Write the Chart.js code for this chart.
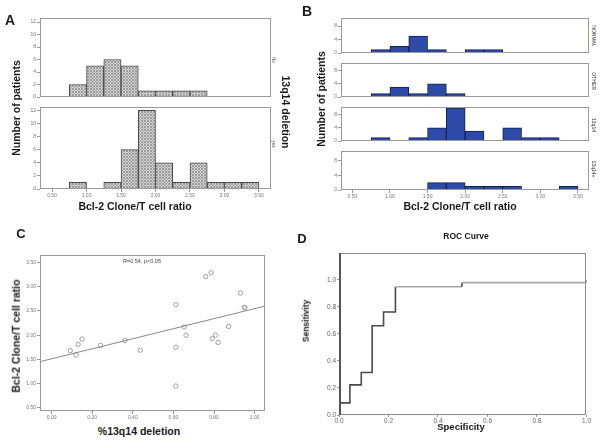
<!DOCTYPE html>
<html>
<head>
<meta charset="utf-8">
<script src="https://cdn.jsdelivr.net/npm/chart.js@4/dist/chart.umd.min.js"></script>
<style>
body { margin: 0; background: #fff; }
#fig { position: relative; width: 602px; height: 443px; overflow: hidden; font-family: "Liberation Sans", Arial, sans-serif; }
#fig canvas { position: absolute; }
.t { position: absolute; white-space: nowrap; color: #1a1a1a; line-height: 1; transform: translate(-50%, -50%); }
.b { font-weight: bold; }
.up { transform: translate(-50%, -50%) rotate(-90deg); }
.down { transform: translate(-50%, -50%) rotate(90deg); }
</style>
</head>
<body>
<div id="fig"></div>
<script>
// histogram bins (Bcl-2 clone / T cell ratio), width 0.25
const binStarts = [0.75, 1.00, 1.25, 1.50, 1.75, 2.00, 2.25, 2.50, 2.75, 3.00, 3.25];
const binWidth = 0.25;
const ratioTicks = [0.5, 1.0, 1.5, 2.0, 2.5, 3.0, 3.5];

// panel A: 13q14 deletion no / yes
const noDelCounts  = [2, 5, 6, 5, 1, 1, 1, 1, 0, 0, 0];
const yesDelCounts = [1, 0, 1, 6, 12, 4, 1, 4, 1, 1, 1];
const countTicksA = [0, 2, 4, 6, 8, 10, 12];

// panel B: cytogenetic groups
const groupNames = ['NORMAL', 'OTHER', '13q14', '13q14+'];
const normalCounts = [1, 2, 5, 1, 0, 1, 1, 0, 0, 0, 0];
const otherCounts  = [1, 3, 1, 4, 1, 0, 0, 0, 0, 0, 0];
const q14Counts    = [1, 0, 1, 4, 10, 3, 0, 4, 1, 1, 0];
const q14PlusCounts = [0, 0, 0, 2, 2, 1, 1, 1, 0, 0, 1];
const countTicksB = [0, 2, 4, 6, 8, 10];

// panel C: %13q14 deletion vs ratio
const delPct = [0.092, 0.121, 0.131, 0.150, 0.241, 0.361, 0.437, 0.612, 0.612, 0.612, 0.652, 0.662,
                0.759, 0.786, 0.791, 0.807, 0.820, 0.872, 0.930, 0.950, 0.952];
const delRatio = [1.68, 1.59, 1.81, 1.92, 1.79, 1.89, 1.69, 2.63, 1.75, 0.95, 2.17, 2.00,
                  3.21, 3.29, 1.93, 2.00, 1.85, 2.18, 2.87, 2.57, 2.57];
const fitX = [-0.06, 1.06];
const fitY = [1.45, 2.61];
const pctTicks = [0, 0.2, 0.4, 0.6, 0.8, 1.0];
const ratioTicksC = [0.5, 1.0, 1.5, 2.0, 2.5, 3.0, 3.5];

// panel D: ROC curve (step corners)
const rocX = [0, 0.044, 0.090, 0.134, 0.180, 0.228, 0.497, 1.0];
const rocY = [0.090, 0.223, 0.315, 0.661, 0.763, 0.949, 0.980, 1.0];
const rocTicks = [0, 0.2, 0.4, 0.6, 0.8, 1.0];

Chart.defaults.font.family = '"Liberation Sans", Arial, sans-serif';
Chart.defaults.animation = false;

const fig = document.getElementById('fig');

const frame = {
    id: 'frame',
    afterDatasetsDraw(chart, args, opts) {
        const a = chart.chartArea;
        const ctx = chart.ctx;
        ctx.save();
        ctx.strokeStyle = opts.color || '#8c8c8c';
        ctx.lineWidth = 1;
        ctx.strokeRect(Math.round(a.left) + 0.5, Math.round(a.top) + 0.5,
            Math.round(a.right - a.left) - 1, Math.round(a.bottom - a.top) - 1);
        if (opts.leftColor) {
            ctx.strokeStyle = opts.leftColor;
            ctx.lineWidth = 2;
            ctx.beginPath();
            ctx.moveTo(Math.round(a.left) + 1, a.top);
            ctx.lineTo(Math.round(a.left) + 1, a.bottom);
            ctx.stroke();
        }
        ctx.restore();
    }
};

function addCanvas(box, padL, padB) {
    const c = document.createElement('canvas');
    c.width = box.r - box.l + padL + 1;
    c.height = box.b - box.t + padB + 1;
    c.style.left = (box.l - padL) + 'px';
    c.style.top = (box.t - 1) + 'px';
    fig.appendChild(c);
    return c;
}

function label(text, x, y, size, cls, color) {
    const d = document.createElement('div');
    d.className = 't ' + (cls || '');
    d.textContent = text;
    d.style.left = x + 'px';
    d.style.top = y + 'px';
    d.style.fontSize = size + 'px';
    if (color) d.style.color = color;
    fig.appendChild(d);
}

function hatchPattern() {
    const p = document.createElement('canvas');
    p.width = 3; p.height = 3;
    const g = p.getContext('2d');
    g.fillStyle = '#d6d6d6';
    g.fillRect(0, 0, 3, 3);
    g.fillStyle = '#9c9c9c';
    for (let i = 0; i < 3; i++) {
        g.fillRect(i, i, 1, 1);
        g.fillRect(2 - i, i, 1, 1);
    }
    return g.createPattern(p, 'repeat');
}

const tickFont = { size: 5 };
const tickColor = '#777';

function fixedTicks(values) {
    return function (scale) {
        scale.ticks = values.map(v => ({ value: v }));
    };
}

function histogram(box, counts, opts) {
    const padL = 30;
    const padB = opts.showX ? 12 : 4;
    const canvas = addCanvas(box, padL, padB);
    new Chart(canvas, {
        type: 'bar',
        data: {
            datasets: [{
                data: binStarts.map((s, i) => ({ x: s + binWidth / 2, y: counts[i] })),
                backgroundColor: opts.fill,
                borderColor: opts.edge,
                borderWidth: 1,
                borderSkipped: 'bottom',
                barPercentage: 1,
                categoryPercentage: 1
            }]
        },
        options: {
            responsive: false,
            layout: { padding: { top: 1, right: 0, left: 0, bottom: opts.showX ? 0 : padB } },
            plugins: { legend: { display: false }, tooltip: { enabled: false }, frame: { color: '#9a9a9a' } },
            scales: {
                x: {
                    type: 'linear',
                    offset: false,
                    min: opts.xMin, max: opts.xMax,
                    display: opts.showX,
                    afterBuildTicks: fixedTicks(ratioTicks),
                    afterFit(s) { s.height = padB; },
                    grid: { offset: false, drawOnChartArea: false, tickLength: 3, color: '#999' },
                    border: { display: false },
                    ticks: { font: tickFont, color: tickColor, padding: 1, maxRotation: 0,
                             callback: v => v.toFixed(2) }
                },
                y: {
                    min: 0, max: opts.yMax,
                    afterBuildTicks: fixedTicks(opts.yTicks),
                    afterFit(s) { s.width = padL; },
                    grid: { drawOnChartArea: false, tickLength: 3, color: '#999' },
                    border: { display: false },
                    ticks: { font: tickFont, color: tickColor, padding: 1 }
                }
            }
        },
        plugins: [frame]
    });
}

// ---- Panel A ----
const hatch = hatchPattern();
const aOpts = { fill: hatch, edge: '#4a4a4a', xMin: 0.325, xMax: 3.675, yTicks: countTicksA };
histogram({ l: 40, t: 15, r: 270, b: 101 }, noDelCounts, Object.assign({ yMax: 12.65, showX: false }, aOpts));
histogram({ l: 40, t: 104, r: 270, b: 189 }, yesDelCounts, Object.assign({ yMax: 12.5, showX: true }, aOpts));

label('A', 10, 20, 14, 'b');
label('Number of patients', 16, 108, 10.5, 'b up');
label('Bcl-2 Clone/T cell ratio', 135, 206, 10.5, 'b');
label('No', 273, 60, 4.5, 'down', '#444');
label('yes', 273, 144, 4.5, 'down', '#444');
label('13q14 deletion', 286, 112, 10.5, 'b down');

// ---- Panel B ----
const blue = '#2d4aa8';
const bBoxes = [
    { l: 341, t: 15, r: 588, b: 57 },
    { l: 341, t: 60, r: 588, b: 101 },
    { l: 341, t: 104, r: 588, b: 145 },
    { l: 341, t: 148, r: 588, b: 190 }
];
const bCounts = [normalCounts, otherCounts, q14Counts, q14PlusCounts];
const bMax = [10.4, 10.25, 10.25, 10.6];
bBoxes.forEach((box, i) => {
    histogram(box, bCounts[i], { fill: blue, edge: '#15204a', xMin: 0.349, xMax: 3.647,
        yTicks: countTicksB, yMax: bMax[i], showX: i === bBoxes.length - 1 });
    label(groupNames[i], 593, (box.t + box.b) / 2, 5, 'down', '#333');
});

label('B', 307, 11, 14, 'b');
label('Number of patients', 321, 99, 10.5, 'b up');
label('Bcl-2 Clone/T cell ratio', 460, 206, 10.5, 'b');

// ---- Panel C ----
(function () {
    const box = { l: 40, t: 251, r: 269, b: 411 };
    const padL = 30, padB = 12;
    const canvas = addCanvas(box, padL, padB);
    new Chart(canvas, {
        type: 'scatter',
        data: {
            datasets: [{
                data: delPct.map((x, i) => ({ x: x, y: delRatio[i] })),
                pointRadius: 2.2,
                pointBorderWidth: 0.8,
                pointBorderColor: '#8a8a8a',
                pointBackgroundColor: 'rgba(255,255,255,0)'
            }, {
                type: 'line',
                data: fitX.map((x, i) => ({ x: x, y: fitY[i] })),
                borderColor: '#8a8a8a',
                borderWidth: 1,
                pointRadius: 0
            }]
        },
        options: {
            responsive: false,
            layout: { padding: { top: 1, right: 0, left: 0, bottom: 0 } },
            plugins: { legend: { display: false }, tooltip: { enabled: false }, frame: { color: '#9a9a9a' } },
            scales: {
                x: {
                    type: 'linear', min: -0.057, max: 1.052,
                    afterBuildTicks: fixedTicks(pctTicks),
                    afterFit(s) { s.height = padB; },
                    grid: { drawOnChartArea: false, tickLength: 3, color: '#999' },
                    border: { display: false },
                    ticks: { font: tickFont, color: tickColor, padding: 1, maxRotation: 0,
                             callback: v => v.toFixed(2) }
                },
                y: {
                    min: 0.434, max: 3.66,
                    afterBuildTicks: fixedTicks(ratioTicksC),
                    afterFit(s) { s.width = padL; },
                    grid: { drawOnChartArea: false, tickLength: 3, color: '#999' },
                    border: { display: false },
                    ticks: { font: tickFont, color: tickColor, padding: 1, callback: v => v.toFixed(2) }
                }
            }
        },
        plugins: [frame]
    });
})();

label('C', 21, 233, 13, 'b');
label('R=0.54, p<0.05', 142, 262, 5.5, '', '#444');
label('Bcl-2 Clone/T cell ratio', 16, 336, 10.5, 'b up');
label('%13q14 deletion', 139, 431, 10.5, 'b');

// ---- Panel D ----
(function () {
    const box = { l: 339, t: 249, r: 590, b: 415 };
    const padL = 30, padB = 10;
    const canvas = addCanvas(box, padL, padB);
    // staircase: rise at each x, then run to the next x
    const steps = [{ x: rocX[0], y: 0 }];
    rocX.forEach((x, i) => {
        steps.push({ x: x, y: rocY[i] });
        if (i + 1 < rocX.length) steps.push({ x: rocX[i + 1], y: rocY[i] });
    });
    new Chart(canvas, {
        type: 'scatter',
        data: {
            datasets: [{
                data: steps,
                showLine: true,
                borderWidth: 1.6,
                borderColor: '#4a4a4a',
                segment: {
                    borderColor: ctx => (ctx.p0.parsed.y === ctx.p1.parsed.y && ctx.p0.parsed.y > 0.9) ? '#a8a8a8' : '#4a4a4a'
                },
                pointRadius: 0
            }]
        },
        options: {
            responsive: false,
            layout: { padding: { top: 1, right: 0, left: 0, bottom: 0 } },
            plugins: { legend: { display: false }, tooltip: { enabled: false },
                       frame: { color: '#8a8a8a', leftColor: '#555' } },
            scales: {
                x: {
                    type: 'linear', min: 0, max: 1,
                    afterBuildTicks: fixedTicks(rocTicks),
                    afterFit(s) { s.height = padB; },
                    grid: { drawOnChartArea: false, tickLength: 2, color: '#999' },
                    border: { display: false },
                    ticks: { font: { size: 6.5 }, color: '#666', padding: 0, maxRotation: 0,
                             callback: v => v.toFixed(1) }
                },
                y: {
                    min: 0, max: 1.2,
                    afterBuildTicks: fixedTicks(rocTicks),
                    afterFit(s) { s.width = padL; },
                    grid: { drawOnChartArea: false, tickLength: 2, color: '#999' },
                    border: { display: false },
                    ticks: { font: { size: 6.5 }, color: '#666', padding: 1, callback: v => v.toFixed(1) }
                }
            }
        },
        plugins: [frame]
    });
})();

label('D', 302, 238, 13, 'b');
label('ROC Curve', 466, 236, 8.5, 'b');
label('Sensitivity', 306, 321, 8.5, 'b up');
label('Specificity', 461, 427, 9.5, 'b');
</script>
</body>
</html>
